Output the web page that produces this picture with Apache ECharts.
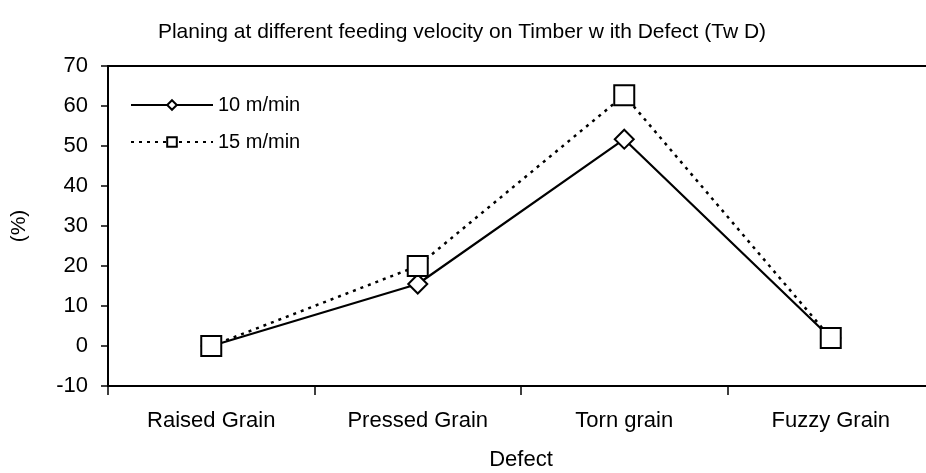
<!DOCTYPE html>
<html>
<head>
<meta charset="utf-8">
<script src="https://cdn.jsdelivr.net/npm/echarts@6/dist/echarts.min.js"></script>
<style>
  html, body { margin: 0; padding: 0; background: #fff; }
  #id_line { width: 926px; height: 473px; }
</style>
</head>
<body>
<div id="id_line"></div>
<script>
var categories = ['Raised Grain', 'Pressed Grain', 'Torn grain', 'Fuzzy Grain'];
var speed10 = [0, 15.5, 51.7, 2];
var speed15 = [0, 20, 62.7, 2];
var yTicks = [-10, 0, 10, 20, 30, 40, 50, 60, 70];

var myChart = echarts.init(document.getElementById('id_line'));
var font = "'Liberation Sans', Arial, sans-serif";

var option = {
    backgroundColor: '#fff',
    animation: false,
    textStyle: { fontFamily: font, color: '#000' },
    title: {
        text: 'Planing at different feeding velocity on Timber w ith Defect (Tw D)',
        left: 457,
        textAlign: 'center',
        top: 17,
        textStyle: { fontFamily: font, fontSize: 21, fontWeight: 'normal', color: '#000' }
    },
    legend: {
        orient: 'vertical',
        left: 130,
        top: 95,
        padding: 0,
        itemWidth: 82,
        itemHeight: 12,
        itemGap: 17,
        textStyle: { fontFamily: font, fontSize: 20, color: '#000' },
        data: ['10 m/min', '15 m/min']
    },
    grid: {
        left: 108,
        top: 66,
        right: -8,
        bottom: 87,
        outerBoundsMode: 'none',
        containLabel: false,
        show: false
    },
    xAxis: [{
        type: 'category',
        data: categories,
        name: 'Defect',
        nameLocation: 'middle',
        nameGap: 63,
        nameTextStyle: { fontSize: 22, color: '#000' },
        axisLine: { onZero: false, lineStyle: { color: '#000', width: 2 } },
        axisTick: { show: true, length: 9, lineStyle: { color: '#000', width: 1.5 } },
        axisLabel: { fontSize: 22, color: '#000', margin: 24 },
        splitLine: { show: false }
    }, {
        // top border of the plot
        type: 'category',
        data: categories,
        position: 'top',
        axisLine: { onZero: false, lineStyle: { color: '#000', width: 2 } },
        axisTick: { show: false },
        axisLabel: { show: false },
        splitLine: { show: false }
    }],
    yAxis: {
        type: 'value',
        min: yTicks[0],
        max: yTicks[yTicks.length - 1],
        interval: 10,
        name: '(%)',
        nameLocation: 'middle',
        nameGap: 78,
        nameRotate: 90,
        nameTextStyle: { fontSize: 21, color: '#000' },
        axisLine: { show: true, lineStyle: { color: '#000', width: 2 } },
        axisTick: { show: true, length: 7, lineStyle: { color: '#000', width: 1.5 } },
        axisLabel: { fontSize: 22, color: '#000', margin: 20 },
        splitLine: { show: false }
    },
    series: [{
        name: '10 m/min',
        type: 'line',
        data: speed10,
        symbol: 'diamond',
        symbolSize: 19,
        lineStyle: { color: '#000', width: 2.2 },
        itemStyle: { color: '#fff', borderColor: '#000', borderWidth: 2 }
    }, {
        name: '15 m/min',
        type: 'line',
        data: speed15,
        symbol: 'rect',
        symbolSize: 20,
        lineStyle: { color: '#000', width: 2.5, type: [3, 5] },
        itemStyle: { color: '#fff', borderColor: '#000', borderWidth: 2 }
    }]
};

myChart.setOption(option);
</script>
</body>
</html>
